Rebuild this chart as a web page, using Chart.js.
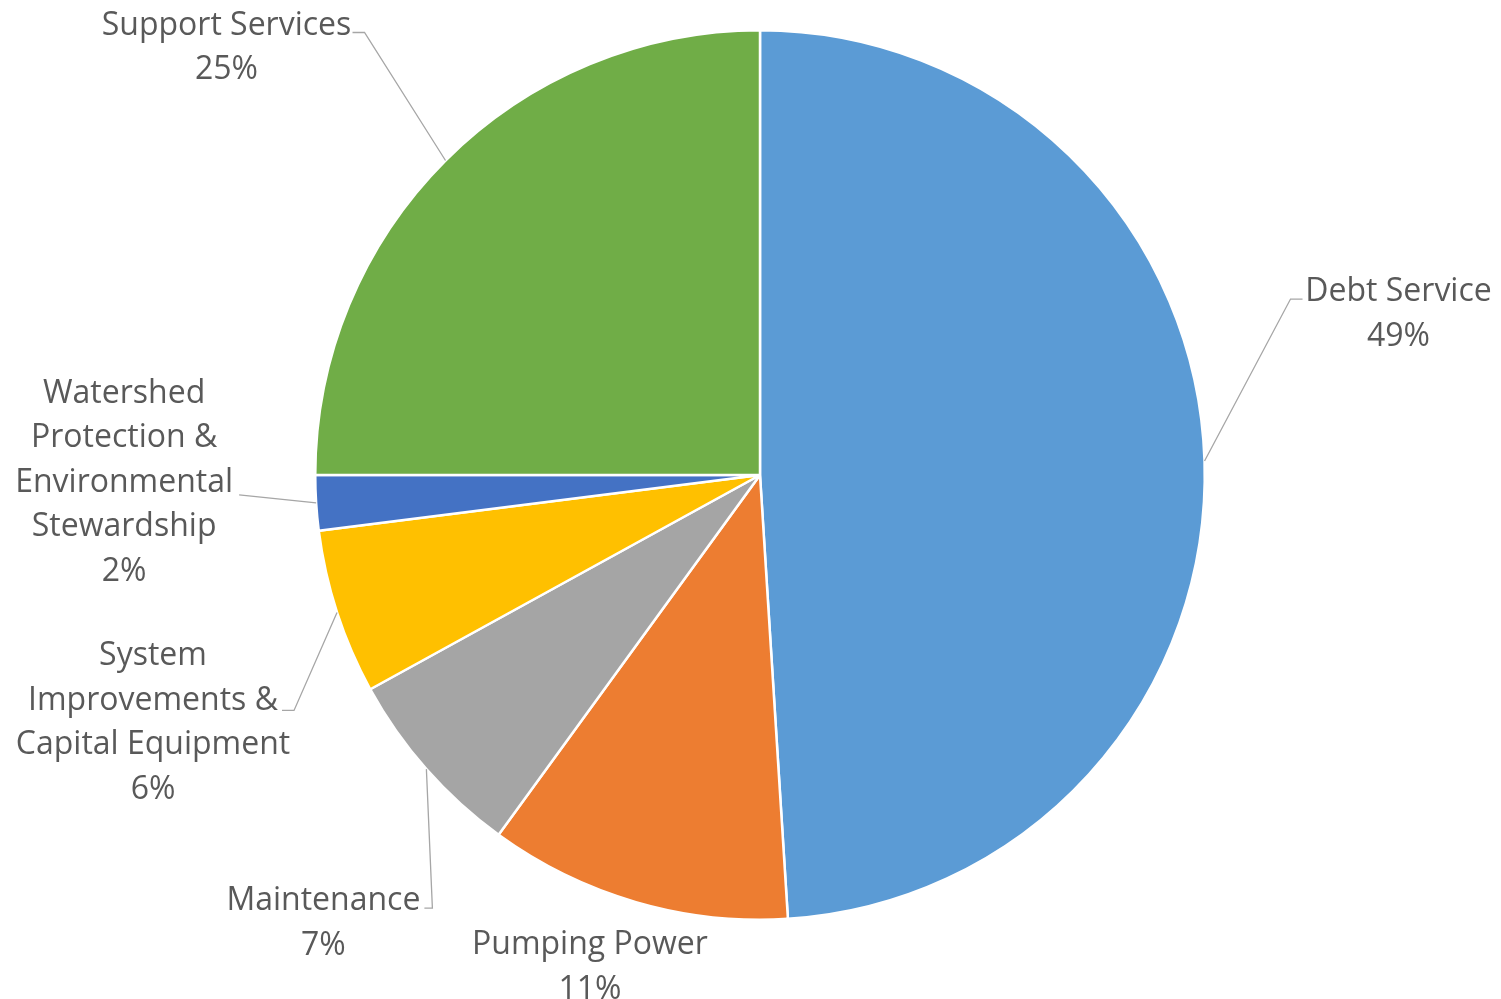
<!DOCTYPE html>
<html>
<head>
<meta charset="utf-8">
<title>Budget Breakdown</title>
<script src="https://cdn.jsdelivr.net/npm/chart.js@4"></script>
<style>
    html, body { margin: 0; padding: 0; background: #ffffff; }
    canvas { display: block; }
</style>
</head>
<body>
<canvas id="budget_pie" width="1501" height="999"></canvas>
<script>
// Budget categories, clockwise from 12 o'clock
const categories = [
    'Debt Service',
    'Pumping Power',
    'Maintenance',
    'System Improvements & Capital Equipment',
    'Watershed Protection & Environmental Stewardship',
    'Support Services',
];
// Share of the budget, in percent
const shares = [49, 11, 7, 6, 2, 25];
// How each category name is wrapped in its label
const labelLines = [
    ['Debt Service'],
    ['Pumping Power'],
    ['Maintenance'],
    ['System', 'Improvements &', 'Capital Equipment'],
    ['Watershed', 'Protection &', 'Environmental', 'Stewardship'],
    ['Support Services'],
];
const sliceColors = ['#5B9BD5', '#ED7D31', '#A5A5A5', '#FFC000', '#4472C4', '#70AD47'];

// Label placement: text offset from the slice's outer edge point,
// and leader line points (elbow, then stub end) relative to the text
const labelPlacement = [
    { dx: 194, dy: -160, leader: [[-108, -2], [-96, -2]] },
    { dx: -46, dy: 52, leader: null },
    { dx: -103, dy: 141, leader: [[109, -2], [101, -2]] },
    { dx: -184, dy: 53, leader: [[141, 45], [129, 45]] },
    { dx: -192, dy: -100, leader: [[115, 92], [115, 92]] },
    { dx: -219, dy: -126, leader: [[138, -2], [126, -2]] },
];

const LINE_HEIGHT = 44.5;
const TEXT_COLOR = '#595959';
const LEADER_COLOR = '#A6A6A6';

// Draws the outside labels with their leader lines
const outsideLabels = {
    id: 'outsideLabels',
    afterDatasetsDraw(chart) {
        const ctx = chart.ctx;
        const meta = chart.getDatasetMeta(0);
        ctx.save();
        ctx.font = '32px "Open Sans", sans-serif';
        ctx.textAlign = 'center';
        ctx.textBaseline = 'alphabetic';

        meta.data.forEach((arc, i) => {
            const p = arc.getProps(['x', 'y', 'startAngle', 'endAngle', 'outerRadius'], true);
            const mid = (p.startAngle + p.endAngle) / 2;
            const ax = p.x + Math.cos(mid) * p.outerRadius;
            const ay = p.y + Math.sin(mid) * p.outerRadius;
            const place = labelPlacement[i];
            const tx = ax + place.dx;
            const ty = ay + place.dy;

            if (place.leader) {
                ctx.beginPath();
                ctx.strokeStyle = LEADER_COLOR;
                ctx.lineWidth = 1.3;
                ctx.moveTo(ax, ay);
                place.leader.forEach(pt => ctx.lineTo(tx + pt[0], ty + pt[1]));
                ctx.stroke();
            }

            const lines = labelLines[i].concat([shares[i] + '%']);
            ctx.fillStyle = TEXT_COLOR;
            lines.forEach((line, k) => {
                ctx.fillText(line, tx, ty + k * LINE_HEIGHT);
            });
        });
        ctx.restore();
    }
};

new Chart(document.getElementById('budget_pie'), {
    type: 'pie',
    data: {
        labels: categories,
        datasets: [{
            data: shares,
            backgroundColor: sliceColors,
            borderColor: '#ffffff',
            borderWidth: 2.5,
        }],
    },
    options: {
        responsive: false,
        animation: false,
        layout: {
            padding: { left: 314, right: 295, top: 29, bottom: 78 },
        },
        plugins: {
            legend: { display: false },
            tooltip: { enabled: false },
        },
    },
    plugins: [outsideLabels],
});
</script>
</body>
</html>
